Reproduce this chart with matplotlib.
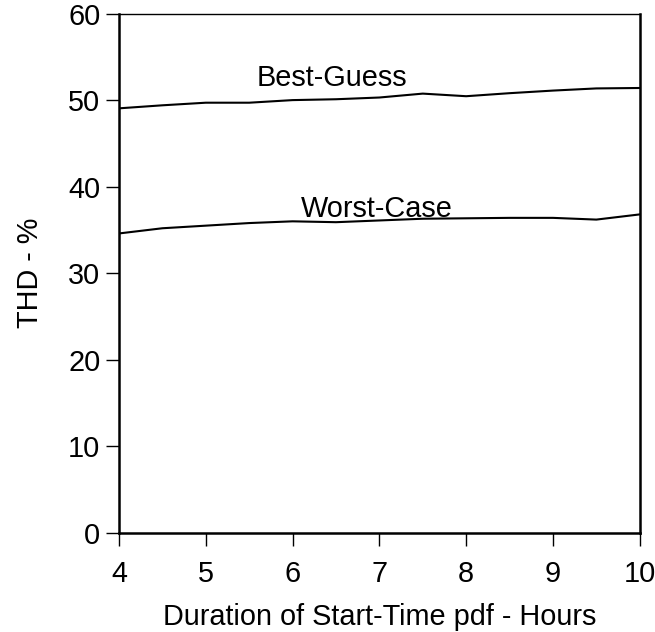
import matplotlib
matplotlib.use("Agg")
import matplotlib.pyplot as plt

plt.rcParams['font.family'] = ['Liberation Sans', 'DejaVu Sans']

# Duration of the start-time distribution (hours)
duration = [4, 4.5, 5, 5.5, 6, 6.5, 7, 7.5, 8, 8.5, 9, 9.5, 10]
# Total harmonic distortion (%)
best_guess = [49.05, 49.4, 49.7, 49.7, 50.0, 50.1, 50.3, 50.75, 50.45, 50.8, 51.1, 51.35, 51.4]
worst_case = [34.6, 35.2, 35.5, 35.8, 36.0, 35.9, 36.1, 36.3, 36.35, 36.4, 36.4, 36.2, 36.8]

x_ticks = [4, 5, 6, 7, 8, 9, 10]
y_ticks = [0, 10, 20, 30, 40, 50, 60]

FS = 20.8

fig = plt.figure(figsize=(6.55, 6.32), dpi=100)
ax = fig.add_axes([0.1817, 0.1566, 0.795, 0.822])

ax.plot(duration, best_guess, color='black', lw=1.5)
ax.plot(duration, worst_case, color='black', lw=1.5)

ax.text(6.45, 51.67, 'Best-Guess', fontsize=FS, ha='center', va='baseline')
ax.text(6.97, 36.45, 'Worst-Case', fontsize=FS, ha='center', va='baseline')

ax.set_xlim(4, 10)
ax.set_ylim(0, 60)
ax.set_xticks(x_ticks)
ax.set_yticks(y_ticks)
ax.tick_params(direction='out', length=9.5, width=1, labelsize=FS)
ax.tick_params(axis='x', pad=10)
ax.tick_params(axis='y', pad=4)

for side in ('left', 'bottom', 'right'):
    ax.spines[side].set_linewidth(1.8)
ax.spines['top'].set_linewidth(1.0)

ax.set_xlabel('Duration of Start-Time pdf - Hours', fontsize=FS, labelpad=11)
ax.set_ylabel('THD - %', fontsize=FS, labelpad=17)

fig.savefig('out.png', dpi=100)
